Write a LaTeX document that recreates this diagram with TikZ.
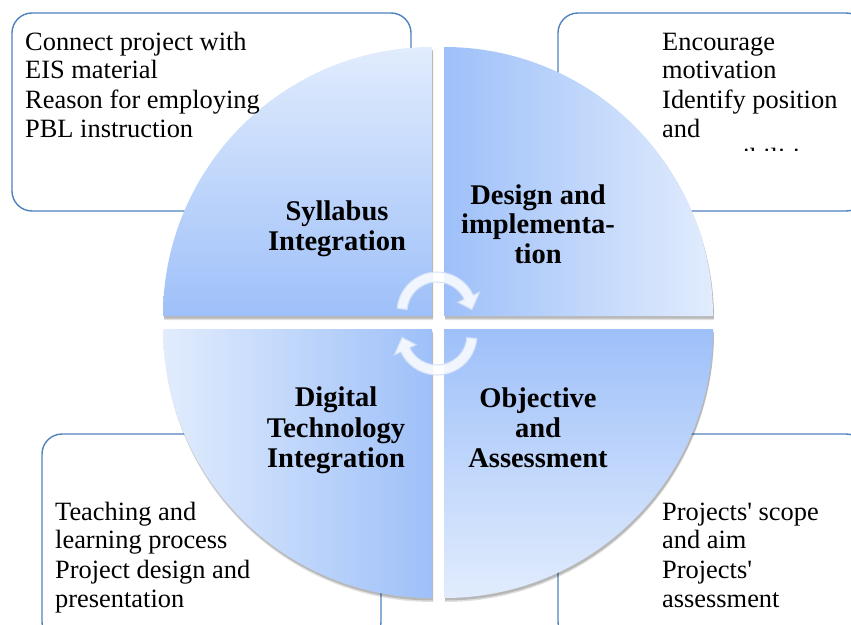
\documentclass[tikz,border=0pt]{standalone}
\usepackage{fontspec}
\setmainfont{Liberation Serif}[Ligatures=TeXOff]
\definecolor{qdark}{RGB}{158,192,249}
\definecolor{qlight}{RGB}{225,236,253}
\definecolor{boxline}{RGB}{79,129,189}
\definecolor{cycline}{RGB}{210,224,248}
\begin{document}
\begin{tikzpicture}[x=1pt,y=-1pt,
  infobox/.style={draw=boxline, line width=1.4pt, rounded corners=20pt},
  quadshape/.style={
    preaction={fill=black, fill opacity=0.12, transform canvas={xshift=1pt, yshift=-4pt}},
    preaction={fill=black, fill opacity=0.18, transform canvas={xshift=1pt, yshift=-2.5pt}}},
  bodytext/.style={font=\fontsize{26.4}{29}\selectfont, anchor=base west, inner sep=0pt},
  quadtext/.style={font=\fontsize{28.5}{30}\selectfont\bfseries, anchor=base, inner sep=0pt},
  cycarrow/.style={fill=white, fill opacity=0.85, draw=cycline, line width=1pt}
]
\useasboundingbox (0,0) rectangle (851,624);
\clip (0,0) rectangle (851,624);

% info boxes
\path[infobox] (12,13) rectangle (411,211);
\path[infobox] (558,13) rectangle (866,211);
\path[infobox] (42,434) rectangle (381,642);
\path[infobox] (558,434) rectangle (866,642);

% quadrants
\path[quadshape, top color=qlight, bottom color=qdark]
  (432,316) -- ++(-269,0) arc[start angle=180, end angle=270, radius=269] -- cycle;
\path[quadshape, left color=qdark, right color=qlight]
  (444,316) -- ++(0,-269) arc[start angle=270, end angle=360, radius=269] -- cycle;
\path[quadshape, left color=qlight, right color=qdark]
  (432,329) -- ++(-269,0) arc[start angle=180, end angle=90, radius=269] -- cycle;
\path[quadshape, top color=qdark, bottom color=qlight]
  (444,329) -- ++(269,0) arc[start angle=0, end angle=90, radius=269] -- cycle;

% cycle arrows
\begin{scope}[shift={(437,312)}, yscale=-1]
  \path[cycarrow] (175:40) arc[start angle=175, end angle=25, radius=40]
    -- (25:47) -- (4:35) -- (25:23) -- (25:30)
    arc[start angle=25, end angle=175, radius=30] -- cycle;
\end{scope}
\begin{scope}[shift={(437,335)}, yscale=-1, rotate=180]
  \path[cycarrow] (175:40) arc[start angle=175, end angle=25, radius=40]
    -- (25:47) -- (4:35) -- (25:23) -- (25:30)
    arc[start angle=25, end angle=175, radius=30] -- cycle;
\end{scope}

% quadrant labels
\node[quadtext] (sy1) at (337,220) {Syllabus};
\node[quadtext] (sy2) at (337,250) {Integration};
\node[quadtext] (di1) at (538,204) {Design and};
\node[quadtext] (di2) at (538,233) {implementa-};
\node[quadtext] (di3) at (538,263) {tion};
\node[quadtext] (dt1) at (336,406) {Digital};
\node[quadtext] (dt2) at (336,437) {Technology};
\node[quadtext] (dt3) at (336,467) {Integration};
\node[quadtext] (oa1) at (538,407) {Objective};
\node[quadtext] (oa2) at (538,437) {and};
\node[quadtext] (oa3) at (538,467) {Assessment};

% box texts
\node[bodytext] (tl1) at (25,50) {Connect project with};
\node[bodytext] (tl2) at (25,78) {EIS material};
\node[bodytext] (tl3) at (25,108) {Reason for employing};
\node[bodytext] (tl4) at (25,137) {PBL instruction};

\node[bodytext] (tr1) at (662,50) {Encourage};
\node[bodytext] (tr2) at (662,78) {motivation};
\node[bodytext] (tr3) at (662,108) {Identify position};
\node[bodytext] (tr4) at (662,137) {and};
\begin{scope}
  \clip (600,100) rectangle (851,150);
  \node[bodytext] (tr5) at (662,166) {responsibilities};
\end{scope}

\node[bodytext] (bl1) at (55,520) {Teaching and};
\node[bodytext] (bl2) at (55,548) {learning process};
\node[bodytext] (bl3) at (55,578) {Project design and};
\node[bodytext] (bl4) at (55,607) {presentation};

\node[bodytext] (br1) at (662,520) {Projects' scope};
\node[bodytext] (br2) at (662,548) {and aim};
\node[bodytext] (br3) at (662,578) {Projects'};
\node[bodytext] (br4) at (662,607) {assessment};
\end{tikzpicture}
\end{document}
